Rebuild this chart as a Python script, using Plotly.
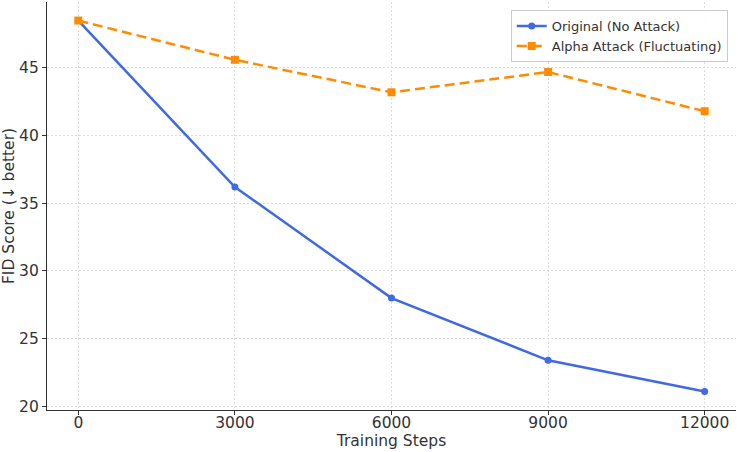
import plotly.graph_objects as go

steps = [0, 3000, 6000, 9000, 12000]
original = [48.5, 36.2, 28.0, 23.4, 21.1]
alpha_attack = [48.5, 45.6, 43.2, 44.7, 41.8]
x_ticks = [0, 3000, 6000, 9000, 12000]
y_ticks = [20, 25, 30, 35, 40, 45]

fig = go.Figure()
fig.add_trace(go.Scatter(
    x=steps, y=original, name="Original (No Attack)", mode="lines+markers",
    line=dict(color="#4169e1", width=2.5),
    marker=dict(symbol="circle", size=7, color="#4169e1"),
))
fig.add_trace(go.Scatter(
    x=steps, y=alpha_attack, name="Alpha Attack (Fluctuating)", mode="lines+markers",
    line=dict(color="#ff8c00", width=2.5, dash="10px,5px"),
    marker=dict(symbol="square", size=8, color="#ff8c00"),
))

axis_common = dict(
    showgrid=True, gridcolor="#dcdcdc", griddash="2px,2px", gridwidth=0.8,
    zeroline=False, showline=True, linecolor="#333333", linewidth=1.2,
    ticks="outside", ticklen=4, tickcolor="#333333", tickwidth=1,
    tickfont=dict(family="DejaVu Sans", size=15.5, color="#333333"),
    title_font=dict(family="DejaVu Sans", size=15.5, color="#333333"),
)

fig.update_xaxes(range=[-600, 12600], tickvals=x_ticks,
                 ticktext=[str(v) for v in x_ticks], ticklabelstandoff=-6,
                 title_text="Training Steps", title_standoff=3, **axis_common)
fig.update_yaxes(range=[19.73, 49.87], tickvals=y_ticks,
                 title_text="FID Score (↓ better)", title_standoff=4, **axis_common)

fig.update_layout(
    width=739, height=452,
    margin=dict(l=47, r=3, t=2, b=42),
    plot_bgcolor="white", paper_bgcolor="white",
    font=dict(family="DejaVu Sans", size=13, color="#333333"),
    legend=dict(x=0.988, y=0.98, xanchor="right", yanchor="top",
                bgcolor="rgba(255,255,255,0.9)", bordercolor="#cccccc", borderwidth=1,
                font=dict(family="DejaVu Sans", size=13, color="#333333"),
                tracegroupgap=0, itemwidth=30),
    showlegend=True,
)

fig.write_html("out.html")
